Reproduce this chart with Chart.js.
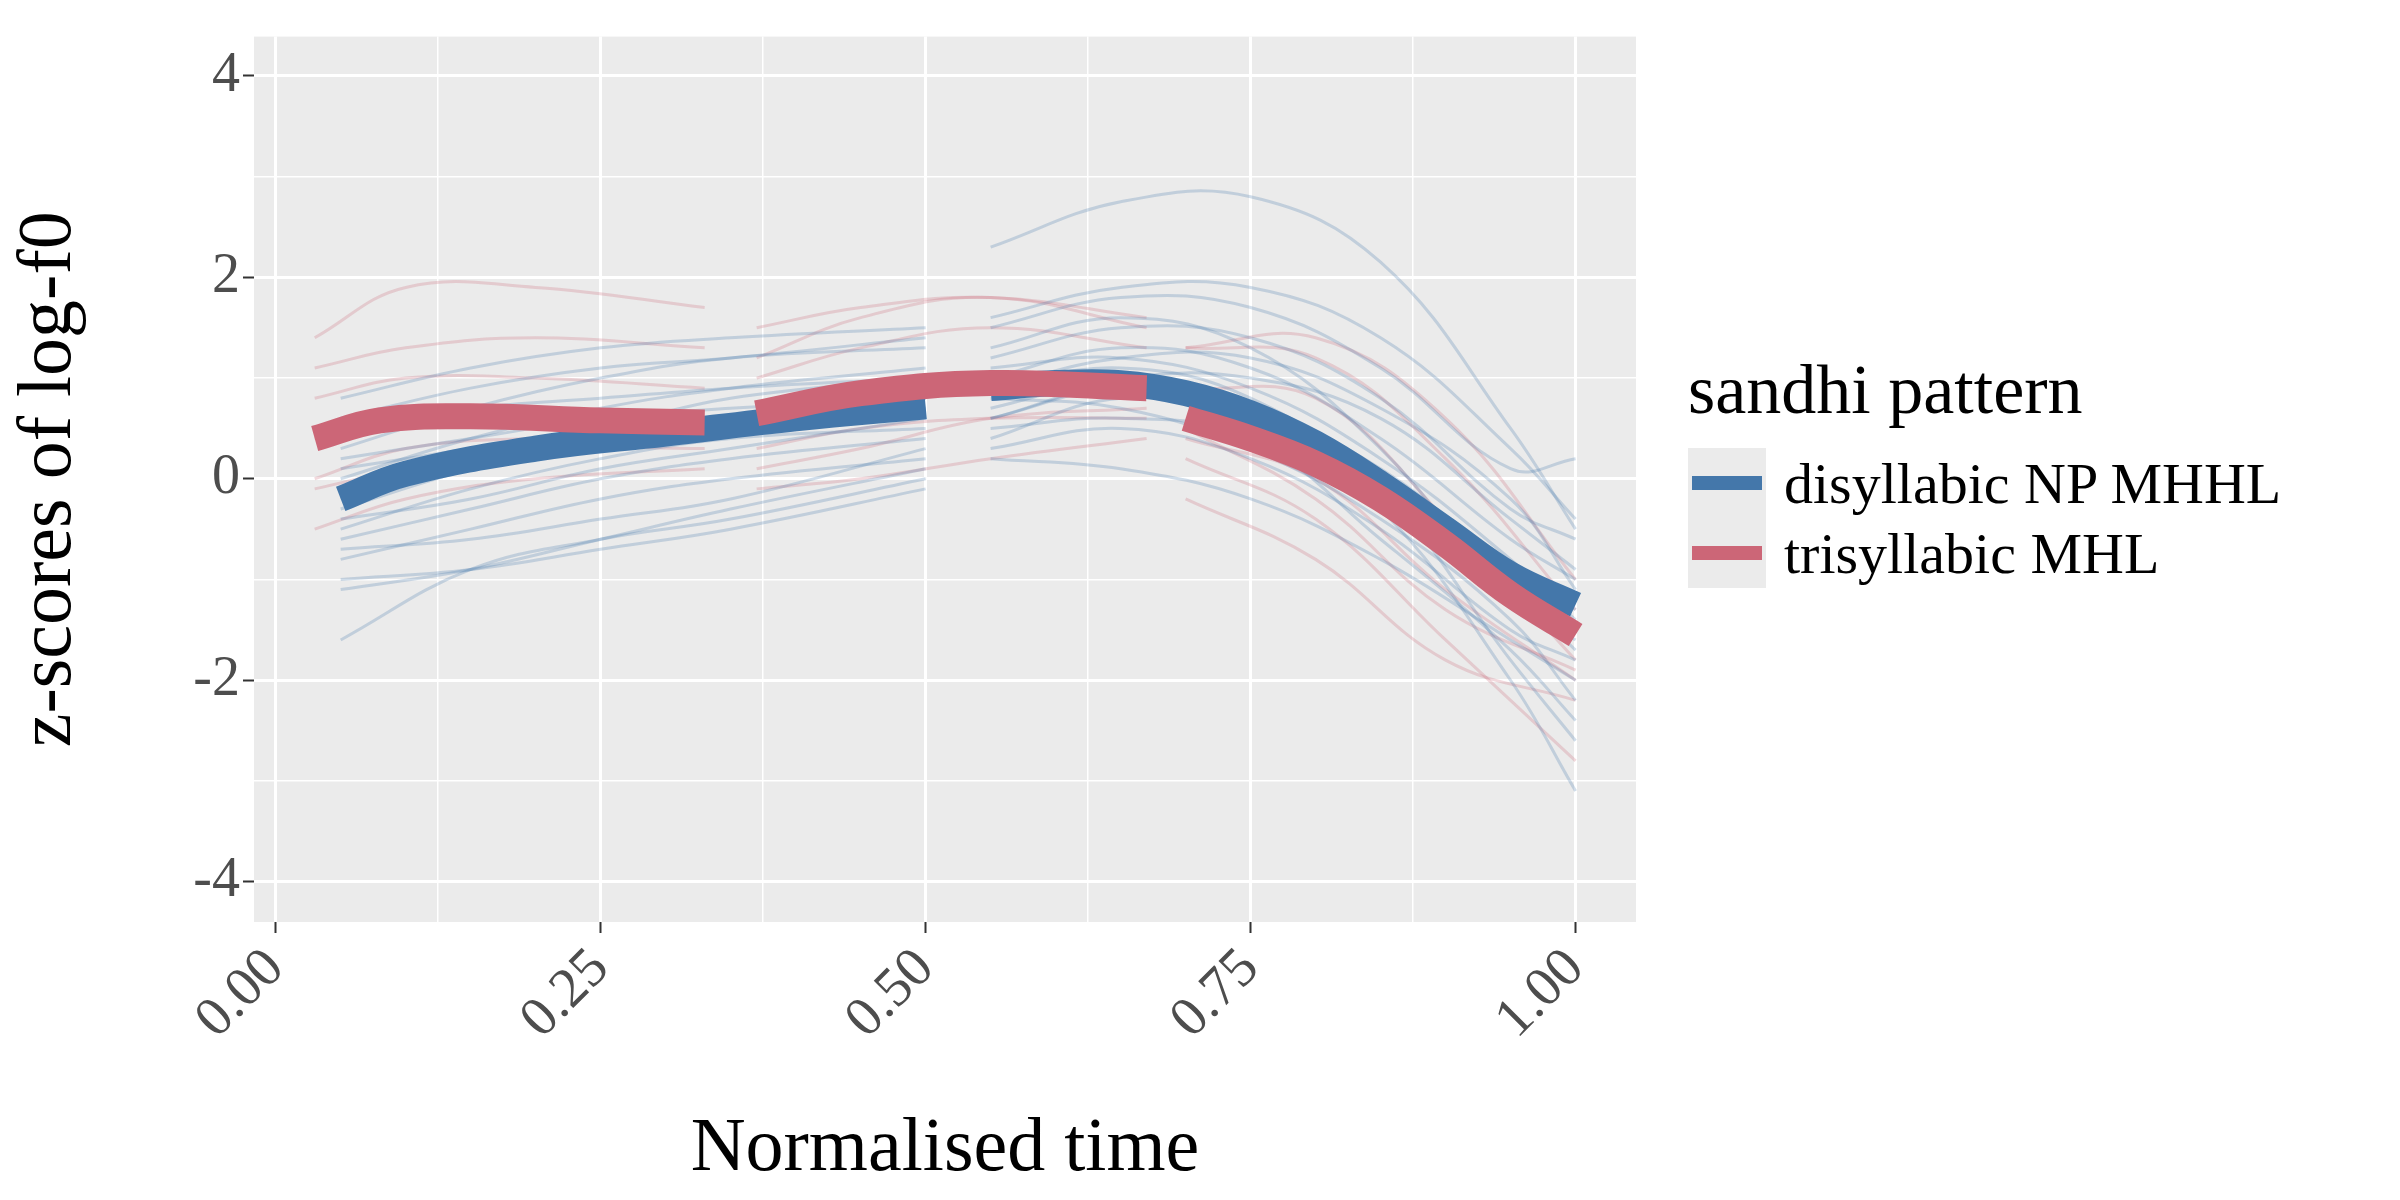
<!DOCTYPE html>
<html>
<head>
<meta charset="utf-8">
<script src="https://cdn.jsdelivr.net/npm/chart.js@4"></script>
<style>
  body { margin: 0; width: 2400px; height: 1200px; background: #fff; font-family: "Liberation Serif", serif; position: relative; overflow: hidden; }
  #wrap { position: absolute; left: 0; top: 0; width: 1636px; height: 1200px; }
  #legend { position: absolute; left: 1688px; top: 350px; color: #000; }
  #legend .title { font-size: 70px; margin-bottom: 18px; }
  #legend .row { display: flex; align-items: center; height: 70px; }
  #legend .key { width: 78px; height: 70px; background: #EBEBEB; position: relative; }
  #legend .key span { position: absolute; left: 4px; right: 4px; top: 28px; height: 14px; }
  #legend .lab { font-size: 58px; margin-left: 18px; }
</style>
</head>
<body>
<div id="wrap"><canvas id="c"></canvas></div>
<div id="legend">
  <div class="title">sandhi pattern</div>
  <div class="row"><div class="key"><span style="background:#4477AA"></span></div><div class="lab">disyllabic NP MHHL</div></div>
  <div class="row"><div class="key"><span style="background:#CC6677"></span></div><div class="lab">trisyllabic MHL</div></div>
</div>
<script>
// ---- data ----
const xTicks = [0, 0.125, 0.25, 0.375, 0.5, 0.625, 0.75, 0.875, 1];
const yTicks = [-4, -3, -2, -1, 0, 1, 2, 3, 4];

// individual disyllabic tokens: two syllables
const blueX1 = [0.05, 0.15, 0.25, 0.35, 0.5];
const blueX2 = [0.55, 0.65, 0.75, 0.85, 0.95, 1.0];
const blueTokens = [
  [[-1.6, -0.9, -0.6, -0.4, 0.0], [0.2, 0.1, -0.2, -0.8, -1.6, -2.0]],
  [[-1.0, -0.9, -0.7, -0.5, -0.1], [0.3, 0.5, 0.2, -0.5, -1.5, -1.8]],
  [[-0.6, -0.3, 0.0, 0.2, 0.4], [0.6, 0.9, 0.7, 0.1, -0.9, -1.3]],
  [[-0.3, 0.1, 0.4, 0.6, 0.8], [1.0, 1.3, 1.1, 0.4, -0.6, -1.0]],
  [[0.0, 0.4, 0.7, 0.9, 1.1], [1.2, 1.5, 1.4, 0.8, -0.3, -0.6]],
  [[0.3, 0.7, 1.0, 1.2, 1.3], [1.5, 1.8, 1.7, 1.1, 0.1, 0.2]],
  [[0.8, 1.1, 1.3, 1.4, 1.5], [2.3, 2.75, 2.8, 2.15, 0.5, -0.5]],
  [[-0.8, -0.5, -0.2, 0.0, 0.2], [0.8, 0.7, 0.3, -0.4, -1.4, -2.2]],
  [[-0.4, -0.2, 0.1, 0.3, 0.6], [0.9, 1.1, 0.8, -0.1, -1.8, -2.6]],
  [[0.5, 0.7, 0.8, 0.9, 1.0], [1.3, 1.6, 1.3, 0.3, -1.2, -1.6]],
  [[-0.2, 0.2, 0.5, 0.8, 1.0], [1.1, 1.2, 0.9, 0.2, -0.8, -1.4]],
  [[0.2, 0.4, 0.6, 0.7, 0.8], [0.7, 1.0, 1.0, 0.6, -0.4, -0.9]],
  [[-1.1, -0.9, -0.6, -0.3, 0.1], [0.4, 0.8, 0.6, -0.3, -2.0, -3.1]],
  [[0.6, 0.9, 1.1, 1.2, 1.4], [1.6, 1.9, 1.9, 1.4, 0.3, -0.4]],
  [[-0.5, -0.1, 0.2, 0.4, 0.5], [0.6, 0.9, 0.5, -0.3, -1.1, -1.7]],
  [[0.1, 0.3, 0.5, 0.6, 0.7], [0.9, 1.2, 1.2, 0.7, -0.2, -1.1]],
  [[-0.7, -0.6, -0.4, -0.2, 0.3], [0.5, 0.6, 0.4, -0.6, -1.7, -2.4]]
];

// individual trisyllabic tokens: three syllables
const redX1 = [0.03, 0.1, 0.2, 0.33];
const redX2 = [0.37, 0.45, 0.55, 0.67];
const redX3 = [0.7, 0.8, 0.9, 1.0];
const redTokens = [
  [[1.4, 1.9, 1.9, 1.7], [1.5, 1.7, 1.8, 1.6], [1.3, 1.4, 0.6, -1.0]],
  [[0.8, 1.0, 1.0, 0.9], [1.2, 1.6, 1.8, 1.5], [0.9, 0.8, -0.4, -1.8]],
  [[0.4, 0.5, 0.5, 0.4], [0.5, 0.8, 1.0, 0.9], [0.4, 0.0, -1.1, -2.0]],
  [[-0.1, 0.1, 0.3, 0.3], [0.3, 0.5, 0.6, 0.6], [0.2, -0.4, -1.6, -2.8]],
  [[0.0, 0.3, 0.4, 0.4], [-0.1, 0.0, 0.2, 0.4], [-0.2, -0.8, -1.8, -2.2]],
  [[1.1, 1.3, 1.4, 1.3], [1.0, 1.3, 1.5, 1.3], [1.3, 1.2, 0.2, -1.3]],
  [[-0.5, -0.2, 0.0, 0.1], [0.1, 0.3, 0.6, 0.7], [0.5, -0.2, -1.3, -1.9]]
];

// mean contours
const blueMeanX1 = [0.05, 0.1, 0.2, 0.3, 0.4, 0.5];
const blueMeanY1 = [-0.2, 0.05, 0.3, 0.45, 0.6, 0.72];
const blueMeanX2 = [0.55, 0.6, 0.65, 0.7, 0.75, 0.8, 0.85, 0.9, 0.95, 1.0];
const blueMeanY2 = [0.9, 0.95, 0.95, 0.85, 0.65, 0.35, -0.05, -0.5, -0.95, -1.25];
const redMeanX1 = [0.03, 0.08, 0.15, 0.25, 0.33];
const redMeanY1 = [0.4, 0.58, 0.62, 0.58, 0.56];
const redMeanX2 = [0.37, 0.45, 0.55, 0.67];
const redMeanY2 = [0.65, 0.85, 0.95, 0.9];
const redMeanX3 = [0.7, 0.75, 0.8, 0.85, 0.9, 0.95, 1.0];
const redMeanY3 = [0.6, 0.4, 0.15, -0.2, -0.65, -1.15, -1.55];

const BLUE = '#4477AA', RED = '#CC6677';

function pts(xs, ys) { return xs.map((x, i) => ({ x: x, y: ys[i] })); }
function thin(data, color) {
  return { data: data, borderColor: color, borderWidth: 3, pointRadius: 0, tension: 0.4, order: 10 };
}
function thick(data, color, order) {
  return { data: data, borderColor: color, borderWidth: 26, pointRadius: 0, tension: 0.4, order: order, borderCapStyle: 'butt' };
}

const datasets = [];
blueTokens.forEach(t => {
  datasets.push(thin(pts(blueX1, t[0]), 'rgba(68,119,170,0.25)'));
  datasets.push(thin(pts(blueX2, t[1]), 'rgba(68,119,170,0.25)'));
});
redTokens.forEach(t => {
  datasets.push(thin(pts(redX1, t[0]), 'rgba(204,102,119,0.25)'));
  datasets.push(thin(pts(redX2, t[1]), 'rgba(204,102,119,0.25)'));
  datasets.push(thin(pts(redX3, t[2]), 'rgba(204,102,119,0.25)'));
});
datasets.push(thick(pts(blueMeanX1, blueMeanY1), BLUE, 2));
datasets.push(thick(pts(blueMeanX2, blueMeanY2), BLUE, 2));
datasets.push(thick(pts(redMeanX1, redMeanY1), RED, 1));
datasets.push(thick(pts(redMeanX2, redMeanY2), RED, 1));
datasets.push(thick(pts(redMeanX3, redMeanY3), RED, 1));

const panelBg = {
  id: 'panelBg',
  beforeDraw(chart) {
    const a = chart.chartArea, ctx = chart.ctx;
    ctx.save();
    ctx.fillStyle = '#EBEBEB';
    ctx.fillRect(a.left, a.top, a.right - a.left, a.bottom - a.top);
    ctx.restore();
  }
};

const isMajorX = v => Math.abs(v * 4 - Math.round(v * 4)) < 1e-6;
const isMajorY = v => v % 2 === 0;

new Chart(document.getElementById('c'), {
  type: 'line',
  data: { datasets: datasets },
  plugins: [panelBg],
  options: {
    responsive: true,
    maintainAspectRatio: false,
    animation: false,
    layout: { padding: { top: 12, right: 0, left: 0, bottom: 0 } },
    plugins: { legend: { display: false }, tooltip: { enabled: false } },
    scales: {
      x: {
        type: 'linear', min: -0.0167, max: 1.0465,
        afterBuildTicks: s => { s.ticks = xTicks.map(v => ({ value: v })); },
        afterFit: s => { s.height = 278; },
        border: { display: false },
        grid: {
          color: '#fff',
          lineWidth: c => isMajorX(c.tick.value) ? 3 : 1.5,
          tickColor: c => isMajorX(c.tick.value) ? '#333' : 'rgba(0,0,0,0)',
          tickLength: 11, tickWidth: 2
        },
        ticks: {
          minRotation: 45, maxRotation: 45, autoSkip: false,
          color: '#4d4d4d', font: { family: 'Liberation Serif', size: 56 },
          callback: v => isMajorX(v) ? v.toFixed(2) : ''
        },
        title: { display: true, text: 'Normalised time', color: '#000', font: { family: 'Liberation Serif', size: 76 }, padding: { top: 4 } }
      },
      y: {
        type: 'linear', min: -4.4, max: 4.39,
        afterBuildTicks: s => { s.ticks = yTicks.map(v => ({ value: v })); },
        afterFit: s => { s.width = 254; },
        border: { display: false },
        grid: {
          color: '#fff',
          lineWidth: c => isMajorY(c.tick.value) ? 3 : 1.5,
          tickColor: c => isMajorY(c.tick.value) ? '#333' : 'rgba(0,0,0,0)',
          tickLength: 11, tickWidth: 2
        },
        ticks: {
          autoSkip: false, color: '#4d4d4d', font: { family: 'Liberation Serif', size: 56 },
          callback: v => isMajorY(v) ? String(v) : ''
        },
        title: { display: true, text: 'z-scores of log-f0', color: '#000', font: { family: 'Liberation Serif', size: 76 }, padding: { bottom: 30 } }
      }
    }
  }
});
</script>
</body>
</html>
